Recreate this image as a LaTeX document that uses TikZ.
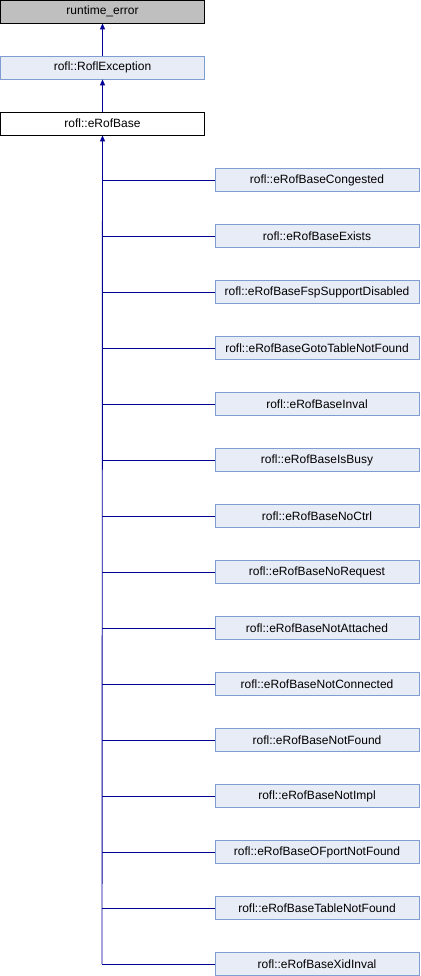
\documentclass[tikz,border=0pt]{standalone}
\usepackage{fontspec}
\setmainfont{Liberation Sans}
\usetikzlibrary{arrows.meta}
\definecolor{boxfill}{HTML}{E8ECF6}
\definecolor{boxdraw}{HTML}{7F9DD1}
\definecolor{greyfill}{HTML}{BFBFBF}
\definecolor{edge}{HTML}{000097}
\begin{document}
\begin{tikzpicture}[x=1pt,y=-1pt,
  cls/.style={draw=boxdraw,fill=boxfill,line width=0.8pt,minimum width=204pt,minimum height=23pt,inner sep=0pt,font=\fontsize{12}{14}\selectfont},
  top/.style={cls,draw=black,fill=greyfill},
  cur/.style={cls,draw=black,fill=white},
  inh/.style={draw=edge,line width=0.9pt},
  arr/.style={inh,-{Triangle[length=6pt,width=5pt]}}]
\useasboundingbox (0,0) rectangle (420,976);
\node[top] (rt) at (102.5,11.5) {runtime\_error};
\node[cls] (re) at (102.5,67.5) {rofl::RoflException};
\node[cur] (base) at (102.5,123.5) {rofl::eRofBase};
\draw[arr] (re.north) -- (rt.south);
\draw[arr] (base.north) -- (re.south);
\foreach \n/\t [count=\i from 0] in {
 c1/rofl::eRofBaseCongested,
 c2/rofl::eRofBaseExists,
 c3/rofl::eRofBaseFspSupportDisabled,
 c4/rofl::eRofBaseGotoTableNotFound,
 c5/rofl::eRofBaseInval,
 c6/rofl::eRofBaseIsBusy,
 c7/rofl::eRofBaseNoCtrl,
 c8/rofl::eRofBaseNoRequest,
 c9/rofl::eRofBaseNotAttached,
 c10/rofl::eRofBaseNotConnected,
 c11/rofl::eRofBaseNotFound,
 c12/rofl::eRofBaseNotImpl,
 c13/rofl::eRofBaseOFportNotFound,
 c14/rofl::eRofBaseTableNotFound,
 c15/rofl::eRofBaseXidInval} {
  \node[cls] (\n) at (317,180+56*\i) {\t};
  \draw[inh] (\n.west) -- (102,180+56*\i);
}
\coordinate (jend) at (102,964);
\draw[arr] (jend) -- (base.south);
\end{tikzpicture}
\end{document}
